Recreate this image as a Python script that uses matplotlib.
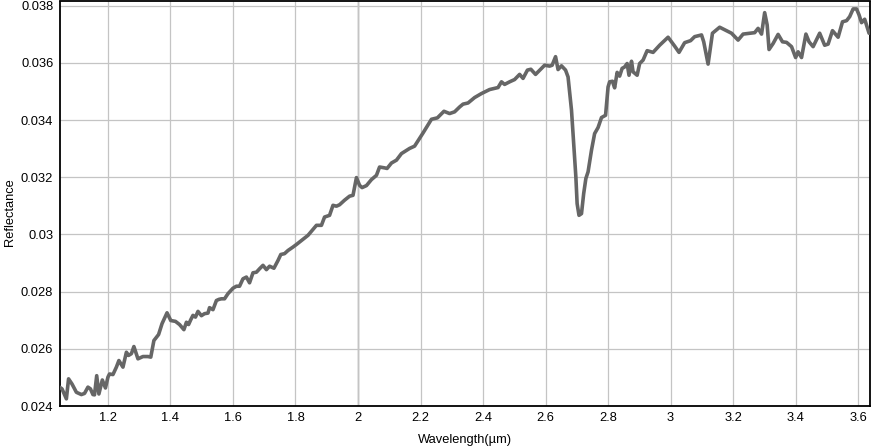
import matplotlib
matplotlib.use("Agg")
import matplotlib.pyplot as plt
from matplotlib.ticker import FuncFormatter, MultipleLocator

wavelength = [
    1.045, 1.053, 1.067, 1.074, 1.085, 1.099, 1.115, 1.125, 1.136, 1.144,
    1.152, 1.157, 1.164, 1.171, 1.182, 1.192, 1.200, 1.205, 1.216, 1.227,
    1.235, 1.248, 1.259, 1.266, 1.275, 1.283, 1.296, 1.312, 1.328, 1.337,
    1.347, 1.362, 1.373, 1.389, 1.401, 1.416, 1.429, 1.443, 1.451, 1.458,
    1.465, 1.472, 1.480, 1.488, 1.499, 1.509, 1.520, 1.525, 1.536, 1.547,
    1.555, 1.563, 1.573, 1.584, 1.600, 1.611, 1.621, 1.632, 1.643, 1.653,
    1.664, 1.675, 1.685, 1.696, 1.707, 1.717, 1.731, 1.744, 1.753, 1.765,
    1.776, 1.792, 1.803, 1.819, 1.840, 1.853, 1.867, 1.883, 1.893, 1.909,
    1.920, 1.931, 1.941, 1.957, 1.973, 1.984, 1.995, 2.005, 2.013, 2.027,
    2.043, 2.059, 2.069, 2.085, 2.093, 2.107, 2.123, 2.139, 2.165, 2.181,
    2.208, 2.235, 2.254, 2.275, 2.293, 2.309, 2.325, 2.336, 2.352, 2.373,
    2.395, 2.421, 2.437, 2.448, 2.459, 2.469, 2.485, 2.501, 2.517, 2.528,
    2.542, 2.553, 2.568, 2.587, 2.597, 2.613, 2.621, 2.632, 2.640, 2.651,
    2.664, 2.672, 2.683, 2.690, 2.697, 2.701, 2.707, 2.715, 2.722, 2.729,
    2.736, 2.747, 2.757, 2.768, 2.779, 2.792, 2.800, 2.805, 2.814, 2.821,
    2.829, 2.837, 2.845, 2.853, 2.861, 2.867, 2.875, 2.880, 2.893, 2.901,
    2.912, 2.925, 2.944, 2.965, 2.992, 3.013, 3.027, 3.045, 3.064, 3.077,
    3.099, 3.106, 3.120, 3.134, 3.157, 3.179, 3.195, 3.216, 3.232, 3.253,
    3.269, 3.280, 3.291, 3.301, 3.309, 3.315, 3.328, 3.344, 3.358, 3.371,
    3.387, 3.400, 3.408, 3.419, 3.433, 3.443, 3.456, 3.477, 3.493, 3.504,
    3.518, 3.536, 3.550, 3.563, 3.573, 3.584, 3.595, 3.603, 3.611, 3.621,
    3.635,
]

reflectance = [
    0.02466, 0.02460, 0.02425, 0.02495, 0.02477, 0.02448, 0.02440, 0.02444, 0.02466, 0.02460,
    0.02440, 0.02439, 0.02506, 0.02442, 0.02491, 0.02463, 0.02501, 0.02512, 0.02510, 0.02536,
    0.02559, 0.02536, 0.02588, 0.02577, 0.02583, 0.02608, 0.02565, 0.02573, 0.02573, 0.02571,
    0.02629, 0.02650, 0.02688, 0.02726, 0.02699, 0.02696, 0.02685, 0.02667, 0.02693, 0.02685,
    0.02702, 0.02717, 0.02711, 0.02731, 0.02716, 0.02723, 0.02725, 0.02744, 0.02737, 0.02769,
    0.02773, 0.02775, 0.02775, 0.02793, 0.02812, 0.02819, 0.02819, 0.02845, 0.02851, 0.02831,
    0.02866, 0.02868, 0.02880, 0.02892, 0.02877, 0.02889, 0.02882, 0.02909, 0.02930, 0.02933,
    0.02944, 0.02956, 0.02965, 0.02979, 0.02997, 0.03014, 0.03032, 0.03032, 0.03061, 0.03067,
    0.03102, 0.03099, 0.03104, 0.03120, 0.03134, 0.03137, 0.03199, 0.03172, 0.03164, 0.03171,
    0.03192, 0.03207, 0.03236, 0.03233, 0.03231, 0.03250, 0.03260, 0.03283, 0.03301, 0.03309,
    0.03355, 0.03403, 0.03408, 0.03431, 0.03423, 0.03429, 0.03446, 0.03456, 0.03460, 0.03479,
    0.03493, 0.03507, 0.03511, 0.03514, 0.03534, 0.03525, 0.03534, 0.03542, 0.03560, 0.03546,
    0.03575, 0.03578, 0.03560, 0.03581, 0.03592, 0.03589, 0.03592, 0.03622, 0.03577, 0.03590,
    0.03575, 0.03551, 0.03435, 0.03318, 0.03201, 0.03108, 0.03067, 0.03073, 0.03143, 0.03196,
    0.03219, 0.03295, 0.03353, 0.03374, 0.03409, 0.03417, 0.03516, 0.03534, 0.03536, 0.03513,
    0.03567, 0.03554, 0.03581, 0.03586, 0.03598, 0.03557, 0.03606, 0.03569, 0.03557, 0.03598,
    0.03610, 0.03643, 0.03637, 0.03662, 0.03690, 0.03659, 0.03637, 0.03671, 0.03678, 0.03692,
    0.03698, 0.03674, 0.03596, 0.03704, 0.03725, 0.03713, 0.03704, 0.03680, 0.03701, 0.03704,
    0.03706, 0.03721, 0.03701, 0.03776, 0.03733, 0.03647, 0.03668, 0.03700, 0.03674, 0.03672,
    0.03657, 0.03619, 0.03639, 0.03619, 0.03701, 0.03674, 0.03657, 0.03704, 0.03662, 0.03666,
    0.03713, 0.03690, 0.03744, 0.03748, 0.03762, 0.03789, 0.03789, 0.03768, 0.03741, 0.03753,
    0.03704,
]

x_label = "Wavelength(µm)"
y_label = "Reflectance"

plt.rcParams['font.family'] = ['Liberation Sans', 'DejaVu Sans']

fig = plt.figure(figsize=(8.71, 4.48), dpi=100)
ax = fig.add_axes([59.5 / 871, 42 / 448, (870 - 59.5) / 871, (406 - 1.5) / 448])

ax.plot(wavelength, reflectance, color="#666666", lw=2.6, solid_joinstyle="round",
        solid_capstyle="round", zorder=3)

ax.set_xlim(1.045, 3.638)
ax.set_ylim(0.024, 0.03815)
ax.xaxis.set_major_locator(MultipleLocator(0.2))
ax.yaxis.set_major_locator(MultipleLocator(0.002))
fmt = FuncFormatter(lambda v, p: ("%.3f" % v).rstrip("0").rstrip("."))
fmtx = FuncFormatter(lambda v, p: ("%.1f" % v).rstrip("0").rstrip("."))
ax.yaxis.set_major_formatter(fmt)
ax.xaxis.set_major_formatter(fmtx)

ax.grid(True, color="#c4c4c4", lw=0.9, zorder=0)
ax.axvline(2.0, color="#555555", lw=0.9, zorder=1)

for s in ax.spines.values():
    s.set_color("black")
    s.set_linewidth(1.3)

ax.tick_params(length=0, labelsize=9.3, pad=4.5, colors="black")
ax.set_xlabel(x_label, fontsize=9.3, labelpad=7)
fig.text(9.5 / 871, 1 - 212 / 448, y_label, fontsize=9.3, rotation=90,
         ha="center", va="center")

fig.savefig("out.png", dpi=100)
